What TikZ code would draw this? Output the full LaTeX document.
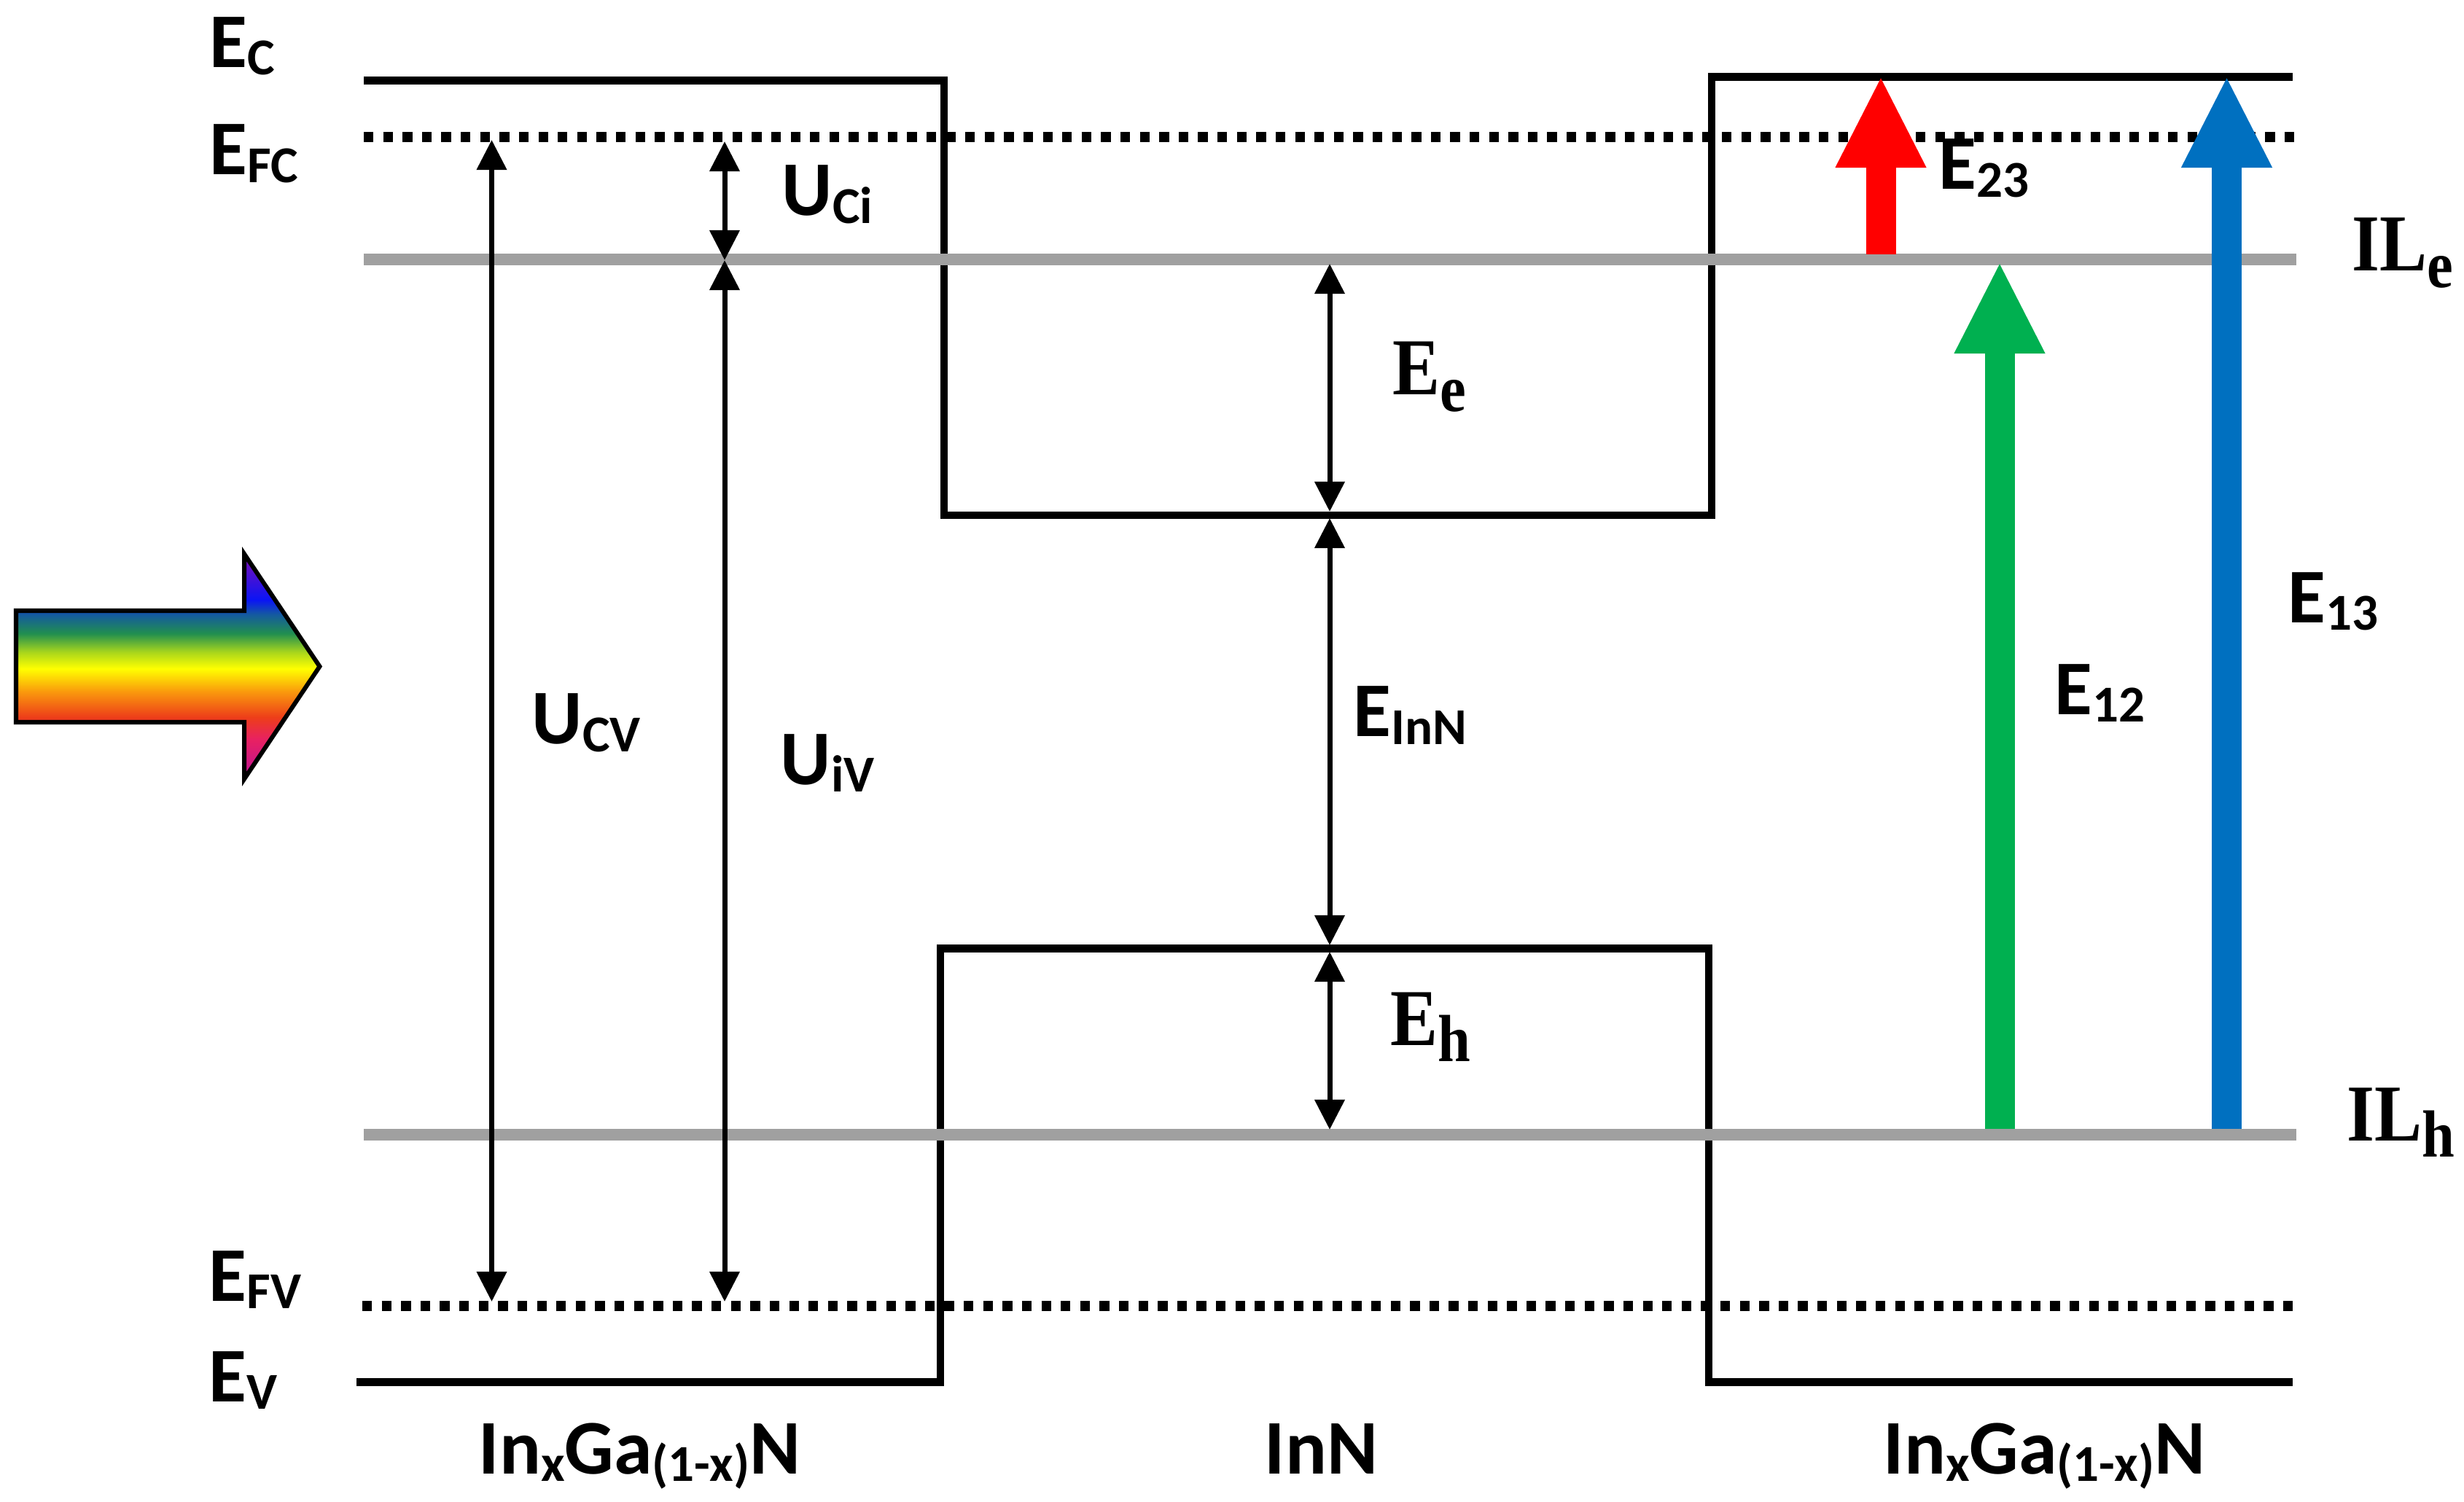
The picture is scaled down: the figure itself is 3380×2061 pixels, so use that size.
\documentclass[tikz,border=0pt]{standalone}
\usepackage{fontspec}
\setmainfont{Carlito}
\newfontfamily\capfont[FakeStretch=0.88]{Liberation Serif}
\usetikzlibrary{arrows.meta}

\definecolor{levelgray}{RGB}{160,160,160}
\definecolor{arrowred}{RGB}{255,0,0}
\definecolor{arrowgreen}{RGB}{0,176,80}
\definecolor{arrowblue}{RGB}{0,112,192}

\pgfdeclareverticalshading{spectrum}{100bp}{
    rgb(0bp)=(0.78,0.08,0.55); rgb(26.9bp)=(0.78,0.08,0.55);
    rgb(33.9bp)=(0.91,0.13,0.38); rgb(38.7bp)=(0.93,0.24,0.10);
    rgb(44.4bp)=(0.98,0.60,0.05); rgb(49.5bp)=(1,1,0);
    rgb(53.2bp)=(0.66,0.84,0.11); rgb(57.3bp)=(0.13,0.56,0.31);
    rgb(61.6bp)=(0.08,0.35,0.63); rgb(64.8bp)=(0.04,0.08,0.96);
    rgb(73.2bp)=(0.43,0.06,0.75); rgb(100bp)=(0.43,0.06,0.75)}

\newcommand{\sublow}[1]{\raisebox{-0.10cm}{\fontsize{20.2}{22}\selectfont #1}}
\newcommand{\subcap}[1]{\raisebox{-0.225cm}{\fontsize{26}{28}\selectfont #1}}

\begin{document}
\begin{tikzpicture}[
        x=0.01cm, y=-0.01cm,
        >={Triangle[length=0.41cm,width=0.40cm]},
        band/.style={line width=0.108cm},
        fermi/.style={line width=0.14cm, dash pattern=on 0.133cm off 0.133cm},
        level/.style={line width=0.16cm, levelgray},
        gap/.style={line width=0.07cm, <->},
        photon/.style={line width=0.41cm, -{Triangle[length=1.26cm,width=1.15cm]}},
        lab/.style={inner sep=0pt, anchor=base west, font=\fontsize{30.2}{32}\selectfont\bfseries},
        caplab/.style={inner sep=0pt, anchor=base west, font=\fontsize{31.5}{33}\selectfont\capfont\bfseries},]

        \useasboundingbox (0,0) rectangle (3380,2061);

        % Band edges
        \coordinate (c0) at (499,110.5);
        \coordinate (c1) at (1295,110.5);
        \coordinate (c2) at (1295,707);
        \coordinate (c3) at (2348,707);
        \coordinate (c4) at (2348,105.5);
        \coordinate (c5) at (3145,105.5);
        \coordinate (v0) at (489,1896.5);
        \coordinate (v1) at (1290,1896.5);
        \coordinate (v2) at (1290,1301.5);
        \coordinate (v3) at (2344,1301.5);
        \coordinate (v4) at (2344,1896.5);
        \coordinate (v5) at (3145,1896.5);
        \draw[band] (c0) -- (c1) -- (c2) -- (c3) -- (c4) -- (c5);
        \draw[band] (v0) -- (v1) -- (v2) -- (v3) -- (v4) -- (v5);

        % Quasi Fermi levels
        \coordinate (fc0) at (499,188);
        \coordinate (fc1) at (3150,188);
        \coordinate (fv0) at (497,1792);
        \coordinate (fv1) at (3148,1792);
        \draw[fermi] (fc0) -- (fc1);
        \draw[fermi] (fv0) -- (fv1);

        % Intermediate levels
        \coordinate (le0) at (499,356);
        \coordinate (le1) at (3150,356);
        \coordinate (lh0) at (499,1557);
        \coordinate (lh1) at (3150,1557);
        \draw[level] (le0) -- (le1);
        \draw[level] (lh0) -- (lh1);

        % Energy gaps
        \coordinate (ucv0) at (674.5,192);
        \coordinate (ucv1) at (674.5,1786);
        \coordinate (uci0) at (994,194);
        \coordinate (uci1) at (994,357);
        \coordinate (uiv1) at (994,1786);
        \coordinate (ee0) at (1824,362);
        \coordinate (ee1) at (1824,702);
        \coordinate (ein0) at (1824,711);
        \coordinate (ein1) at (1824,1297);
        \coordinate (eh0) at (1824,1306);
        \coordinate (eh1) at (1824,1550);
        \draw[gap] (ucv0) -- (ucv1);
        \draw[gap] (uci0) -- (uci1);
        \draw[gap] (uci1) -- (uiv1);
        \draw[gap] (ee0) -- (ee1);
        \draw[gap] (ein0) -- (ein1);
        \draw[gap] (eh0) -- (eh1);

        % Transitions
        \coordinate (t23a) at (2580,349);
        \coordinate (t23b) at (2580,104);
        \coordinate (t12a) at (2743,1549);
        \coordinate (t12b) at (2743,359);
        \coordinate (t13a) at (3054.5,1549);
        \coordinate (t13b) at (3054.5,104);
        \draw[photon, arrowred] (t23a) -- (t23b);
        \draw[photon, arrowgreen] (t12a) -- (t12b);
        \draw[photon, arrowblue] (t13a) -- (t13b);

        % Incident light
        \shadedraw[shading=spectrum, line width=0.06cm] (22,838) -- (335,838) -- (335,760) -- (438.5,914.5) -- (335,1069) -- (335,991) -- (22,991) -- cycle;

        % Labels
        \node[lab] (ec) at (287,93) {E\sublow{C}};
        \node[lab] (efc) at (287,240) {E\sublow{FC}};
        \node[lab] (efv) at (286,1785) {E\sublow{FV}};
        \node[lab] (ev) at (286,1923) {E\sublow{V}};
        \node[lab] (uci) at (1072,296) {U\sublow{Ci}};
        \node[lab] (ucv) at (729,1021) {U\sublow{CV}};
        \node[lab] (uiv) at (1070,1076) {U\sublow{iV}};
        \node[lab] (ein) at (1856,1011) {E\sublow{InN}};
        \node[lab] (e23) at (2659,260) {E\sublow{23}};
        \node[lab] (e12) at (2818,980) {E\sublow{12}};
        \node[lab] (e13) at (3138,854) {E\sublow{13}};
        \node[caplab] (ee) at (1910,542) {E\subcap{e}};
        \node[caplab] (eh) at (1907,1434) {E\subcap{h}};
        \node[caplab] (ile) at (3226,372) {IL\subcap{e}};
        \node[caplab] (ilh) at (3219,1565) {IL\subcap{h}};
        \node[lab] (lw) at (656,2022) {In\sublow{x}Ga\sublow{(1-x)}N};
        \node[lab] (qw) at (1734,2022) {InN};
        \node[lab] (rw) at (2583,2022) {In\sublow{x}Ga\sublow{(1-x)}N};
    \end{tikzpicture}
\end{document}
